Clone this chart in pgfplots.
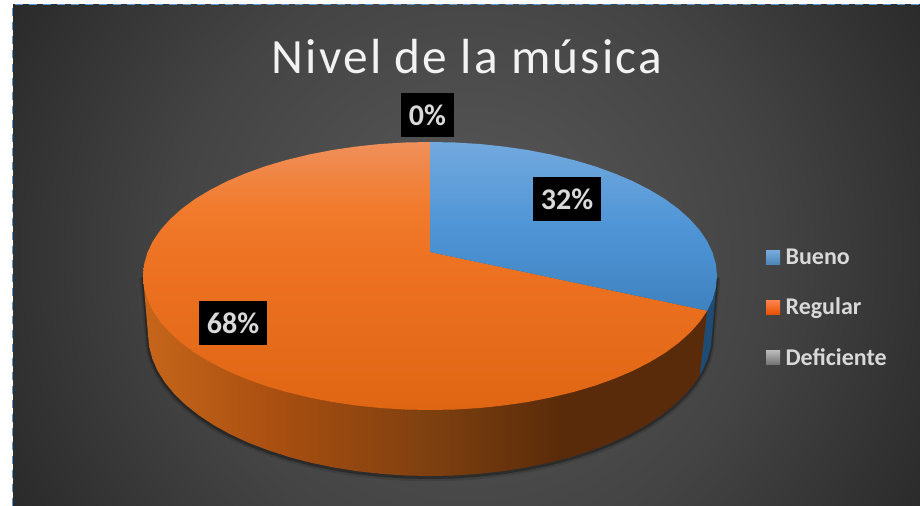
\documentclass[border=0pt]{standalone}
\usepackage{fontspec}
\setmainfont{Carlito}
\newfontfamily\titlefont[LetterSpace=4.4]{Carlito}
\usepackage{pgfplots}
\usepackage{pgfplotstable}
\pgfplotsset{compat=1.18}
\definecolor{bluewallc}{HTML}{1E4C75}
\definecolor{labelc}{HTML}{D9D9D9}
\definecolor{dashc}{HTML}{5B9BD5}
\pgfdeclareradialshading{bgshade}{\pgfpoint{0bp}{0bp}}{rgb(0bp)=(.35,.35,.35); rgb(12.5bp)=(.265,.265,.265); rgb(25bp)=(.13,.13,.13); rgb(50bp)=(.13,.13,.13)}
\pgfdeclareverticalshading{blueface}{100bp}{rgb(0bp)=(.247,.51,.753); rgb(25bp)=(.247,.51,.753); rgb(50bp)=(.31,.584,.839); rgb(75bp)=(.447,.663,.871); rgb(100bp)=(.447,.663,.871)}
\pgfdeclareverticalshading{orangeface}{100bp}{rgb(0bp)=(.878,.4,.078); rgb(25bp)=(.878,.4,.078); rgb(50bp)=(.925,.44,.125); rgb(62.5bp)=(.945,.478,.17); rgb(75bp)=(.941,.565,.353); rgb(100bp)=(.941,.565,.353)}
\pgfdeclarehorizontalshading{orangewall}{100bp}{rgb(0bp)=(.769,.396,.102); rgb(25.6bp)=(.769,.396,.102); rgb(37.1bp)=(.659,.306,.063); rgb(50.4bp)=(.494,.251,.063); rgb(62bp)=(.353,.169,.039); rgb(100bp)=(.353,.169,.039)}
\pgfplotstableread{
x y
430 252
430 142
455 142.5
479.8 144
504.3 146.6
528.2 150.1
551.3 154.6
573.5 160
594.6 166.2
614.5 173.4
632.9 181.2
649.8 189.9
665.1 199.1
678.5 209
690.1 219.4
699.7 230.2
707.2 241.3
712.6 252.7
715.9 264.3
717 276
715.9 287.7
712.6 299.3
707.2 310.7
}\bluetop
\pgfplotstableread{
x y
430 252
707.2 310.7
699.7 321.8
690.1 332.6
678.5 343
665.1 352.9
649.8 362.1
632.9 370.8
614.5 378.6
594.6 385.8
573.5 392
551.3 397.4
528.2 401.9
504.3 405.4
479.8 408
455 409.5
430 410
405 409.5
380.2 408
355.7 405.4
331.8 401.9
308.7 397.4
286.5 392
265.4 385.8
245.5 378.6
227.1 370.8
210.2 362.1
194.9 352.9
181.5 343
169.9 332.6
160.3 321.8
152.8 310.7
147.4 299.3
144.1 287.7
143 276
144.1 264.3
147.4 252.7
152.8 241.3
160.3 230.2
169.9 219.4
181.5 209
194.9 199.1
210.2 189.9
227.1 181.2
245.5 173.4
265.4 166.2
286.5 160
308.7 154.6
331.8 150.1
355.7 146.6
380.2 144
405 142.5
430 142
}\orangetop
\pgfplotstableread{
x y
430 276
707.2 310.7
699.7 375.5
695 382.6
685.6 394
674.2 405
661 415.4
646 425.3
629.4 434.4
611.3 442.8
591.7 450.3
571 457
549.2 462.7
526.5 467.4
503 471.2
479 473.8
454.6 475.5
430 476
405.4 475.5
381 473.8
357 471.2
333.5 467.4
310.8 462.7
289 457
268.3 450.3
248.7 442.8
230.6 434.4
214 425.3
199 415.4
185.8 405
174.4 394
165 382.6
157.6 370.8
152.3 358.7
149.1 346.4
148 334
143 276
}\orangewalltab
\pgfplotstableread{
x y
717 276
715.9 287.7
712.6 299.3
707.2 310.7
699.7 375.5
702.4 370.8
707.7 358.7
710.9 346.4
712 334
}\bluewalltab
\pgfplotstableread{
x y
143 276
148 334
149.1 346.4
152.3 358.7
157.6 370.8
165 382.6
174.4 394
185.8 405
199 415.4
214 425.3
230.6 434.4
248.7 442.8
268.3 450.3
289 457
310.8 462.7
333.5 467.4
357 471.2
381 473.8
405.4 475.5
430 476
454.6 475.5
479 473.8
503 471.2
526.5 467.4
549.2 462.7
571 457
591.7 450.3
611.3 442.8
629.4 434.4
646 425.3
661 415.4
674.2 405
685.6 394
695 382.6
702.4 370.8
707.7 358.7
710.9 346.4
712 334
717 276
}\shadowarc
\begin{document}
\begin{tikzpicture}
\begin{axis}[
  x=0.75pt, y=0.75pt, xmin=0, xmax=920, ymin=0, ymax=506, y dir=reverse,
  hide axis, clip=true, no markers,
  legend image code/.code={\path[#1, draw=none] (0pt,-5.25pt) rectangle (10.5pt,5.25pt); \path (12.5pt,0pt);},
  legend style={at={(0.8326,0.391)}, anchor=west, draw=none, fill=none, inner sep=0pt, outer sep=0pt,
    text=labelc, font=\fontsize{18pt}{18pt}\selectfont\bfseries, row sep=19.5pt, cells={anchor=west}},
  legend cell align=left,
]
% background and selection border
\fill[white] (axis cs:0,0) rectangle (axis cs:920,506);
\begin{scope}
\clip (axis cs:13,5) rectangle (axis cs:920,506);
\shade[shading=bgshade] (axis cs:470,255) circle [radius=450pt];
\end{scope}
\draw[dashc, line width=1.1pt, dash pattern=on 6pt off 4.5pt] (axis cs:12.5,506) -- (axis cs:12.5,4.5) -- (axis cs:920,4.5);
% soft shadow under the pie
\addplot[draw=black, opacity=.12, line width=5pt, yshift=-1.5pt, forget plot] table {\shadowarc};
\addplot[draw=black, opacity=.3, line width=2.5pt, yshift=-1pt, forget plot] table {\shadowarc};
% walls and faces
\addplot[draw=none, fill=bluewallc, forget plot] table {\bluewalltab} -- cycle;
\addplot[draw=none, shading=orangewall, forget plot] table {\orangewalltab} -- cycle;
\addplot[draw=none, shading=orangeface, forget plot] table {\orangetop} -- cycle;
\addplot[draw=none, shading=blueface, forget plot] table {\bluetop} -- cycle;
% legend
\addlegendimage{top color=dashc!85!white, bottom color=dashc!85!black}
\addlegendentry{Bueno}
\addlegendimage{top color=orange!60!red!70!white, bottom color=orange!70!red!90!black}
\addlegendentry{Regular}
\addlegendimage{top color=gray!55!white, bottom color=gray!90!black}
\addlegendentry{Deficiente}
% title and data labels
\node[text=white!95!black, font=\titlefont\fontsize{37pt}{37pt}\selectfont, anchor=center] at (axis cs:467,57) {Nivel de la música};
\tikzset{dl/.style={fill=black, text=labelc, font=\fontsize{22.5pt}{22.5pt}\selectfont\bfseries, inner sep=0pt, minimum height=33pt, anchor=center}}
\node[dl, minimum width=40pt] at (axis cs:427.5,115) {0\%};
\node[dl, minimum width=51pt] at (axis cs:567,199) {32\%};
\node[dl, minimum width=51pt] at (axis cs:233,323) {68\%};
\end{axis}
\end{tikzpicture}
\end{document}
